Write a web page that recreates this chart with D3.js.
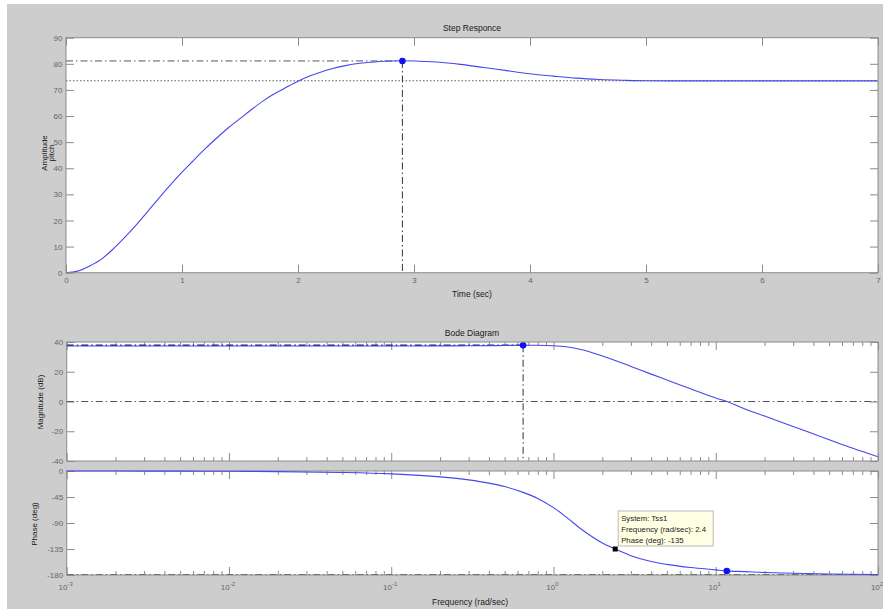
<!DOCTYPE html>
<html>
<head>
<meta charset="utf-8">
<script src="https://cdn.jsdelivr.net/npm/d3@7"></script>
<style>
  html, body { margin: 0; padding: 0; background: #ffffff; }
  svg { display: block; font-family: Arial, "Liberation Sans", Helvetica, sans-serif; }
  .tick text { fill: #666666; font-size: 8px; }
</style>
</head>
<body>
<svg id="chart" width="883" height="613"></svg>
<script>
// ---- Step response of the pitch loop ----
const stepTime = [0, 0.1, 0.2, 0.3, 0.4, 0.5, 0.6, 0.7, 0.8, 0.9, 1.0, 1.1, 1.2, 1.3, 1.4, 1.5,
  1.6, 1.7, 1.8, 1.9, 2.0, 2.1, 2.2, 2.3, 2.4, 2.5, 2.6, 2.7, 2.8, 2.9, 3.0, 3.2, 3.4, 3.6,
  3.8, 4.0, 4.2, 4.4, 4.6, 4.8, 5.0, 5.5, 6.0, 6.5, 7.0];
const stepAmplitude = [0, 0.6, 2.5, 5.0, 8.8, 13.2, 18.0, 23.2, 28.5, 33.6, 38.5, 43.0, 47.5,
  51.6, 55.5, 59.0, 62.5, 65.8, 68.6, 71.0, 73.3, 75.3, 76.9, 78.2, 79.2, 80.0, 80.5, 80.9,
  81.1, 81.15, 81.1, 80.7, 79.8, 78.6, 77.4, 76.2, 75.3, 74.5, 74.0, 73.7, 73.5, 73.45,
  73.45, 73.45, 73.45];
const stepFinalValue = 73.5;
const stepPeakTime = 2.9;
const stepPeakValue = 81.1;
const stepTimeTicks = [0, 1, 2, 3, 4, 5, 6, 7];
const stepAmplitudeTicks = [0, 10, 20, 30, 40, 50, 60, 70, 80, 90];

// ---- Bode diagram of Tss1 ----
const bodeFrequency = [0.001, 0.002, 0.005, 0.01, 0.02, 0.05, 0.1, 0.2, 0.3, 0.4, 0.5, 0.65,
  0.8, 1.0, 1.2, 1.5, 2.0, 2.4, 3.0, 4.0, 5.0, 7.0, 10, 11.7, 15, 20, 30, 50, 70, 100];
const bodeMagnitude = [37.3, 37.3, 37.3, 37.3, 37.3, 37.3, 37.32, 37.38, 37.45, 37.55, 37.65,
  37.8, 37.78, 37.5, 36.8, 34.8, 30.6, 27.6, 23.6, 18.4, 14.5, 8.5, 2.3, 0, -4.8, -9.8,
  -16.8, -25.7, -31.5, -37.2];
const bodePhase = [0, -0.1, -0.25, -0.5, -1.0, -2.5, -5.0, -10.1, -15.4, -21.0, -26.9, -37.0,
  -47.5, -63.4, -79.9, -101.7, -124.5, -135, -146.5, -156.6, -161.6, -167.1, -171.1, -172.9,
  -174.1, -175.6, -177.0, -178.2, -178.7, -179.1];
const magPeakFrequency = 0.65;
const magPeakValue = 37.8;
const crossoverFrequency = 11.7;
const crossoverPhase = -173;
const tipSystem = "Tss1";
const tipFrequency = 2.4;
const tipPhase = -135;
const magnitudeTicks = [-40, -20, 0, 20, 40];
const phaseTicks = [0, -45, -90, -135, -180];
const frequencyDecades = [-3, -2, -1, 0, 1, 2];

// ---- drawing ----
const svg = d3.select("#chart");
const curveColor = "#4646ee";
const markColor = "#1010f0";
const refColor = "#555555";
const frameColor = "#8c8c8c";
const dashDot = "7,3,1.5,3";

svg.append("rect").attr("x", 7).attr("y", 4).attr("width", 876).attr("height", 605)
  .attr("fill", "#cdcdcd");

function frame(x0, x1, y0, y1) {
  svg.append("rect").attr("x", x0).attr("y", y0).attr("width", x1 - x0).attr("height", y1 - y0)
    .attr("fill", "#ffffff");
}
function border(x0, x1, y0, y1) {
  svg.append("rect").attr("x", x0).attr("y", y0).attr("width", x1 - x0).attr("height", y1 - y0)
    .attr("fill", "none").attr("stroke", frameColor).attr("stroke-width", 1);
}
function styleAxis(g) {
  g.select(".domain").remove();
  g.selectAll(".tick line").attr("stroke", frameColor);
}
function label(x, y, text, opts = {}) {
  const t = svg.append("text").attr("x", x).attr("y", y).text(text)
    .attr("font-size", opts.size || 8.5).attr("fill", opts.fill || "#1a1a1a")
    .attr("text-anchor", opts.anchor || "middle");
  if (opts.rotate) t.attr("transform", `rotate(-90,${x},${y})`);
  return t;
}

// Step response panel
const sx = d3.scaleLinear().domain([0, 7]).range([66, 878]);
const sy = d3.scaleLinear().domain([0, 90]).range([272.7, 37.7]);
frame(66, 878, 37.7, 272.7);

svg.append("g").attr("transform", "translate(0,272.7)")
  .call(d3.axisBottom(sx).tickValues(stepTimeTicks).tickSize(-8).tickPadding(4.5).tickFormat(d3.format("d")))
  .call(styleAxis);
svg.append("g").attr("transform", "translate(0,37.7)")
  .call(d3.axisTop(sx).tickValues(stepTimeTicks).tickSize(-8).tickFormat(""))
  .call(styleAxis);
svg.append("g").attr("transform", "translate(66,0)")
  .call(d3.axisLeft(sy).tickValues(stepAmplitudeTicks).tickSize(-8).tickPadding(3.5).tickFormat(d3.format("d")))
  .call(styleAxis);
svg.append("g").attr("transform", "translate(878,0)")
  .call(d3.axisRight(sy).tickValues(stepAmplitudeTicks).tickSize(-8).tickFormat(""))
  .call(styleAxis);

// steady-state and peak reference lines
svg.append("line").attr("x1", sx(0)).attr("x2", sx(7)).attr("y1", sy(stepFinalValue)).attr("y2", sy(stepFinalValue))
  .attr("stroke", refColor).attr("stroke-dasharray", "1.5,2");
svg.append("line").attr("x1", sx(0)).attr("x2", sx(stepPeakTime)).attr("y1", sy(stepPeakValue)).attr("y2", sy(stepPeakValue))
  .attr("stroke", refColor).attr("stroke-dasharray", dashDot);
svg.append("line").attr("x1", sx(stepPeakTime)).attr("x2", sx(stepPeakTime)).attr("y1", sy(stepPeakValue)).attr("y2", sy(0))
  .attr("stroke", "#333333").attr("stroke-dasharray", dashDot);

const stepLine = d3.line().x((d, i) => sx(stepTime[i])).y(d => sy(d)).curve(d3.curveMonotoneX);
svg.append("path").attr("d", stepLine(stepAmplitude)).attr("fill", "none")
  .attr("stroke", curveColor).attr("stroke-width", 1.1);
svg.append("circle").attr("cx", sx(stepPeakTime)).attr("cy", sy(stepPeakValue)).attr("r", 3.3).attr("fill", markColor);
border(66, 878, 37.7, 272.7);

label(472, 31, "Step Responce");
label(472, 297, "Time (sec)");
label(46.5, 153, "Amplitude", { rotate: true, size: 8 });
label(54, 153, "pitch", { rotate: true, size: 8 });

// Bode panels
const fx = d3.scaleLog().domain([0.001, 100]).range([66.7, 878]);
const my = d3.scaleLinear().domain([-40, 40]).range([461, 342]);
const py = d3.scaleLinear().domain([-180, 0]).range([575, 471]);
const majorFreq = frequencyDecades.map(e => Math.pow(10, e));
const minorFreq = [];
frequencyDecades.slice(0, -1).forEach(e => {
  for (let k = 2; k <= 9; k++) minorFreq.push(k * Math.pow(10, e));
});

function freqTicks(yTop, yBot) {
  [[minorFreq, 4], [majorFreq, 8]].forEach(([vals, len]) => {
    svg.append("g").attr("transform", `translate(0,${yBot})`)
      .call(d3.axisBottom(fx).tickValues(vals).tickSize(-len).tickFormat(""))
      .call(styleAxis);
    svg.append("g").attr("transform", `translate(0,${yTop})`)
      .call(d3.axisTop(fx).tickValues(vals).tickSize(-len).tickFormat(""))
      .call(styleAxis);
  });
}

// Magnitude
frame(66.7, 878, 342, 461);
freqTicks(342, 461);
svg.append("g").attr("transform", "translate(66.7,0)")
  .call(d3.axisLeft(my).tickValues(magnitudeTicks).tickSize(-8).tickPadding(3.5).tickFormat(d3.format("d")))
  .call(styleAxis);
svg.append("g").attr("transform", "translate(878,0)")
  .call(d3.axisRight(my).tickValues(magnitudeTicks).tickSize(-8).tickFormat(""))
  .call(styleAxis);
svg.append("line").attr("x1", fx(0.001)).attr("x2", fx(100)).attr("y1", my(0)).attr("y2", my(0))
  .attr("stroke", refColor).attr("stroke-dasharray", dashDot);
svg.append("line").attr("x1", fx(0.001)).attr("x2", fx(magPeakFrequency)).attr("y1", my(magPeakValue)).attr("y2", my(magPeakValue))
  .attr("stroke", "#20206a").attr("stroke-width", 1.3).attr("stroke-dasharray", dashDot);
svg.append("line").attr("x1", fx(magPeakFrequency)).attr("x2", fx(magPeakFrequency)).attr("y1", my(magPeakValue)).attr("y2", my(-40))
  .attr("stroke", "#333333").attr("stroke-dasharray", dashDot);
const magLine = d3.line().x((d, i) => fx(bodeFrequency[i])).y(d => my(d)).curve(d3.curveMonotoneX);
svg.append("path").attr("d", magLine(bodeMagnitude)).attr("fill", "none")
  .attr("stroke", curveColor).attr("stroke-width", 1.1);
svg.append("circle").attr("cx", fx(magPeakFrequency)).attr("cy", my(magPeakValue)).attr("r", 3.3).attr("fill", markColor);
border(66.7, 878, 342, 461);

// Phase
frame(66.7, 878, 471, 575);
freqTicks(471, 575);
svg.append("g").attr("transform", "translate(66.7,0)")
  .call(d3.axisLeft(py).tickValues(phaseTicks).tickSize(-8).tickPadding(3.5).tickFormat(d3.format("d")))
  .call(styleAxis);
svg.append("g").attr("transform", "translate(878,0)")
  .call(d3.axisRight(py).tickValues(phaseTicks).tickSize(-8).tickFormat(""))
  .call(styleAxis);
svg.selectAll(".tick text").text(function () { return this.textContent.replace("\u2212", "-"); });
svg.append("line").attr("x1", fx(0.001)).attr("x2", fx(100)).attr("y1", py(-180) - 0.5).attr("y2", py(-180) - 0.5)
  .attr("stroke", refColor).attr("stroke-dasharray", dashDot);
const phaseLine = d3.line().x((d, i) => fx(bodeFrequency[i])).y(d => py(d)).curve(d3.curveMonotoneX);
border(66.7, 878, 471, 575);
svg.append("path").attr("d", phaseLine(bodePhase)).attr("fill", "none")
  .attr("stroke", curveColor).attr("stroke-width", 1.1);
svg.append("circle").attr("cx", fx(crossoverFrequency)).attr("cy", py(crossoverPhase)).attr("r", 3.3).attr("fill", markColor);
svg.append("rect").attr("x", fx(tipFrequency) - 2.5).attr("y", py(tipPhase) - 2.5)
  .attr("width", 5).attr("height", 5).attr("fill", "#000000");

// frequency tick labels 10^n
frequencyDecades.forEach(e => {
  const t = svg.append("text").attr("x", fx(Math.pow(10, e)) - 1).attr("y", 590)
    .attr("text-anchor", "middle").attr("font-size", 8).attr("fill", "#666666");
  t.append("tspan").text("10");
  t.append("tspan").attr("dy", -4).attr("font-size", 6).text(String(e));
});

// data tip
const tipX = fx(tipFrequency) + 3, tipY = py(tipPhase) - 38;
svg.append("rect").attr("x", tipX).attr("y", tipY).attr("width", 95).attr("height", 35)
  .attr("fill", "#ffffe4").attr("stroke", "#a8a8a8").attr("stroke-width", 0.8);
[`System: ${tipSystem}`, `Frequency (rad/sec): ${tipFrequency}`, `Phase (deg): ${tipPhase}`]
  .forEach((s, i) => label(tipX + 3, tipY + 10 + i * 10.8, s, { anchor: "start", size: 7.8, fill: "#222222" }));

label(472, 336, "Bode Diagram");
label(470, 605, "Frequency  (rad/sec)");
label(43, 402, "Magnitude (dB)", { rotate: true, size: 8 });
label(37, 524, "Phase (deg)", { rotate: true, size: 8 });
</script>
</body>
</html>
